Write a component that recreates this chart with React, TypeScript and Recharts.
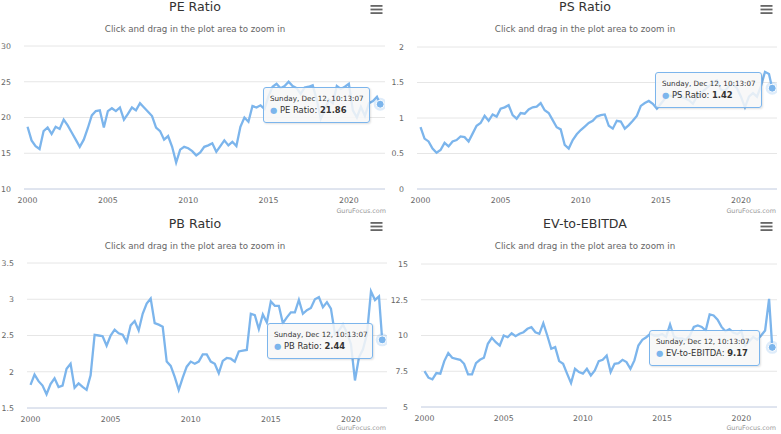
import React from 'react';
import { LineChart, Line, XAxis, YAxis, CartesianGrid, Tooltip } from 'recharts';

const YEARS = [2000, 2001, 2002, 2003, 2004, 2005, 2006, 2007, 2008, 2009, 2010, 2011, 2012, 2013, 2014, 2015, 2016, 2017, 2018, 2019, 2020, 2021];
const QUARTER_OFFSETS = [0, 0.25, 0.5, 0.75];
const LAST_DATE = 2021.95;
const X_TICKS = [2000, 2005, 2010, 2015, 2020];
const X_DOMAIN = [1999.78, 2022.25];
const TOOLTIP_HEADER = 'Sunday, Dec 12, 10:13:07';

const peValues = [
  18.7, 16.8, 16.0, 15.6, 18.1, 18.6, 17.7, 18.7, 18.4, 19.7,
  18.9, 17.9, 16.9, 15.9, 16.9, 18.5, 20.3, 20.9, 21.0, 18.6,
  20.9, 21.3, 20.9, 21.4, 19.7, 20.5, 21.4, 21.0, 22.0, 21.4,
  20.8, 20.2, 18.6, 18.1, 16.9, 17.4, 15.9, 13.7, 15.5, 15.9,
  15.7, 15.3, 14.7, 15.1, 15.9, 16.1, 16.4, 15.2, 16.0, 16.8,
  16.1, 16.6, 16.0, 18.7, 20.0, 19.4, 21.6, 21.4, 21.7, 21.2,
  23.0, 24.3, 24.7, 24.1, 24.4, 25.0, 24.4, 24.1, 23.3, 24.2,
  24.3, 24.5, 22.5, 19.8, 21.0, 22.5, 22.0, 24.4, 24.0, 24.3,
  24.7, 21.0, 20.0, 21.5, 20.2, 22.0, 22.3, 22.9, 21.86,
];

const psValues = [
  0.87, 0.71, 0.67, 0.57, 0.51, 0.55, 0.65, 0.60, 0.67, 0.69,
  0.74, 0.73, 0.67, 0.78, 0.89, 0.93, 1.03, 0.96, 1.05, 1.02,
  1.13, 1.15, 1.18, 1.04, 0.99, 1.07, 1.06, 1.12, 1.15, 1.16,
  1.21, 1.11, 1.07, 0.97, 0.87, 0.84, 0.62, 0.57, 0.69, 0.77,
  0.83, 0.88, 0.93, 0.96, 1.02, 1.04, 1.05, 0.89, 0.85, 0.96,
  0.95, 0.85, 0.90, 0.96, 1.03, 1.17, 1.21, 1.24, 1.20, 1.13,
  1.20, 1.27, 1.32, 1.30, 1.35, 1.30, 1.28, 1.25, 1.20, 1.30,
  1.35, 1.40, 1.45, 1.50, 1.53, 1.40, 1.38, 1.45, 1.48, 1.42,
  1.30, 1.15, 1.30, 1.35, 1.30, 1.45, 1.65, 1.62, 1.42,
];

const pbValues = [
  1.82, 1.96, 1.87, 1.81, 1.69, 1.83, 1.91, 1.79, 1.81, 2.04,
  2.11, 1.78, 1.84, 1.79, 1.75, 1.95, 2.51, 2.50, 2.49, 2.36,
  2.50, 2.58, 2.53, 2.51, 2.41, 2.64, 2.70, 2.57, 2.80, 2.94,
  3.01, 2.67, 2.65, 2.62, 2.14, 2.08, 1.93, 1.75, 1.92, 2.07,
  2.14, 2.11, 2.14, 2.24, 2.24, 2.14, 2.11, 1.98, 2.15, 2.19,
  2.18, 2.14, 2.28, 2.29, 2.30, 2.80, 2.78, 2.59, 2.79, 2.68,
  2.97, 2.91, 2.91, 2.67, 2.75, 2.82, 2.82, 2.99, 2.80, 2.85,
  2.88, 3.00, 3.03, 2.89, 2.96, 2.87, 2.52, 2.57, 2.65, 2.54,
  2.38, 1.88, 2.20, 2.31, 2.52, 3.11, 2.99, 3.04, 2.44,
];

const evValues = [
  7.51, 7.05, 6.93, 7.37, 7.33, 8.21, 8.77, 8.44, 8.37, 8.30,
  8.02, 7.28, 7.28, 8.07, 8.30, 8.44, 9.42, 9.84, 9.53, 9.30,
  10.0, 9.88, 10.16, 9.95, 10.12, 10.23, 10.47, 10.58, 10.23, 10.12,
  10.86, 10.0, 9.07, 9.19, 8.21, 8.02, 7.33, 6.67, 7.67, 7.44,
  7.33, 7.67, 7.21, 7.56, 8.21, 8.30, 8.60, 7.44, 8.02, 8.07,
  8.30, 8.14, 7.67, 8.26, 9.30, 9.70, 9.88, 10.12, 10.0, 10.0,
  10.1, 9.9, 10.77, 9.9, 9.8, 9.8, 9.7, 10.0, 10.6, 10.7,
  10.6, 10.35, 11.47, 11.4, 11.1, 10.6, 10.3, 10.45, 10.2, 10.1,
  10.3, 9.3, 9.6, 9.9, 9.7, 10.0, 10.35, 12.56, 9.17,
];

const peTicks = [10, 15, 20, 25, 30];
const psTicks = [0, 0.5, 1, 1.5, 2];
const pbTicks = [1.5, 2, 2.5, 3, 3.5];
const evTicks = [5, 7.5, 10, 12.5, 15];

const dates = [...YEARS.flatMap((y) => QUARTER_OFFSETS.map((q) => y + q)), LAST_DATE];

const FONT = '"Lucida Grande", "DejaVu Sans", sans-serif';
const BLUE = '#7cb5ec';

type PanelCfg = {
  title: string;
  name: string;
  values: number[];
  ticks: number[];
  left: number;
  top: number;
  plotLeft: number;
  plotRight: number;
  plotTop: number;
  plotBottom: number;
  tipX: number;
  tipY: number;
  tipW: number;
};

const panels: PanelCfg[] = [
  { title: 'PE Ratio', name: 'PE Ratio', values: peValues, ticks: peTicks, left: 0, top: 0,
    plotLeft: 24, plotRight: 385, plotTop: 46, plotBottom: 189, tipX: 263, tipY: 87, tipW: 107 },
  { title: 'PS Ratio', name: 'PS Ratio', values: psValues, ticks: psTicks, left: 390, top: 0,
    plotLeft: 27, plotRight: 387, plotTop: 47, plotBottom: 189, tipX: 265, tipY: 72, tipW: 107 },
  { title: 'PB Ratio', name: 'PB Ratio', values: pbValues, ticks: pbTicks, left: 0, top: 217,
    plotLeft: 27, plotRight: 387, plotTop: 46, plotBottom: 191, tipX: 267, tipY: 106, tipW: 106 },
  { title: 'EV-to-EBITDA', name: 'EV-to-EBITDA', values: evValues, ticks: evTicks, left: 390, top: 217,
    plotLeft: 31, plotRight: 387, plotTop: 47, plotBottom: 190, tipX: 259, tipY: 113, tipW: 111 },
];

const renderActiveDot = (props: any) => (
  <g>
    <circle cx={props.cx} cy={props.cy} r={6.5} fill={BLUE} fillOpacity={0.25} />
    <circle cx={props.cx} cy={props.cy} r={4} fill={BLUE} stroke="#fff" strokeWidth={1} />
  </g>
);

const makeTooltip = (cfg: PanelCfg) => (props: any) => {
  const { active, payload } = props;
  if (!active || !payload || !payload.length) return null;
  const v = Number(payload[0].value);
  return (
    <div
      style={{
        width: cfg.tipW,
        height: 36,
        boxSizing: 'border-box',
        background: 'rgba(247,247,247,0.85)',
        border: `1px solid ${BLUE}`,
        borderRadius: 3,
        boxShadow: '1px 1px 2px rgba(0,0,0,0.12)',
        padding: '6px 0 0 6px',
        fontFamily: FONT,
        color: '#333',
      }}
    >
      <div style={{ fontSize: 7.2, lineHeight: '10px', whiteSpace: 'nowrap' }}>{TOOLTIP_HEADER}</div>
      <div style={{ fontSize: 8.4, lineHeight: '12px', whiteSpace: 'nowrap' }}>
        <span style={{ color: BLUE }}>●</span> {cfg.name}: <b>{v.toFixed(2)}</b>
      </div>
    </div>
  );
};

function Panel({ cfg }: { cfg: PanelCfg }) {
  const data = dates.map((t, i) => ({ t, v: cfg.values[i] }));
  const last = data.length - 1;
  const yDomain = [cfg.ticks[0], cfg.ticks[cfg.ticks.length - 1]];
  return (
    <div style={{ position: 'absolute', left: cfg.left, top: cfg.top, width: 390, height: 217, fontFamily: FONT }}>
      <LineChart
        width={390}
        height={217}
        data={data}
        margin={{ top: cfg.plotTop, right: 390 - cfg.plotRight, bottom: 217 - cfg.plotBottom - 20, left: 0 }}
      >
        <CartesianGrid vertical={false} stroke="#e6e6e6" />
        <XAxis
          dataKey="t"
          type="number"
          domain={X_DOMAIN}
          ticks={X_TICKS}
          allowDataOverflow
          tickLine={false}
          axisLine={{ stroke: '#ccd6eb' }}
          tick={{ fontSize: 7.8, fill: '#666' }}
          height={20}
        />
        <YAxis
          type="number"
          domain={yDomain}
          ticks={cfg.ticks}
          width={cfg.plotLeft}
          axisLine={false}
          tickLine={false}
          tickMargin={7}
          tick={{ fontSize: 7.8, fill: '#666' }}
        />
        <Tooltip
          defaultIndex={last}
          cursor={false}
          position={{ x: cfg.tipX, y: cfg.tipY }}
          content={makeTooltip(cfg)}
          isAnimationActive={false}
          wrapperStyle={{ outline: 'none' }}
        />
        <Line
          dataKey="v"
          type="linear"
          stroke={BLUE}
          strokeWidth={2.3}
          dot={false}
          activeDot={renderActiveDot}
          isAnimationActive={false}
        />
      </LineChart>
      <div style={{ position: 'absolute', left: 0, top: 0, width: 390, textAlign: 'center', fontSize: 12.6, lineHeight: '14px', color: '#333' }}>
        {cfg.title}
      </div>
      <div style={{ position: 'absolute', left: 0, top: 24, width: 390, textAlign: 'center', fontSize: 8.7, lineHeight: '10px', color: '#666' }}>
        Click and drag in the plot area to zoom in
      </div>
      <div style={{ position: 'absolute', right: 4, top: 206, fontSize: 6.4, lineHeight: '10px', color: '#999' }}>
        GuruFocus.com
      </div>
      <svg style={{ position: 'absolute', left: 370, top: 4 }} width={13} height={11}>
        <rect x={0.5} y={1} width={12} height={1.8} fill="#666" />
        <rect x={0.5} y={4.6} width={12} height={1.8} fill="#666" />
        <rect x={0.5} y={8.2} width={12} height={1.8} fill="#666" />
      </svg>
    </div>
  );
}

export default function App() {
  return (
    <div style={{ position: 'absolute', left: 0, top: 0, width: 781, height: 434, background: '#fff', overflow: 'hidden' }}>
      {panels.map((p) => (
        <Panel key={p.title} cfg={p} />
      ))}
    </div>
  );
}
